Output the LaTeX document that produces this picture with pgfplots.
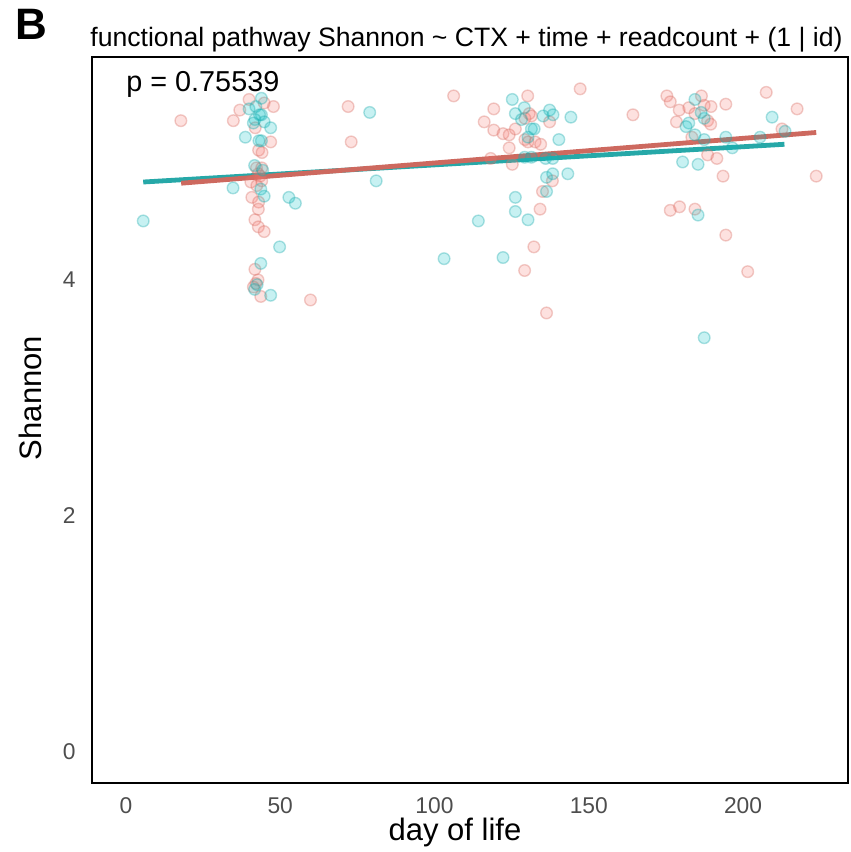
\documentclass[border=0pt]{standalone}
\usepackage{pgfplots}
\pgfplotsset{compat=1.18}
\usepackage{fontspec}
\setmainfont{Liberation Sans}
\definecolor{ggred}{HTML}{F8766D}
\definecolor{ggteal}{HTML}{00BFC4}
\definecolor{lred}{RGB}{205,105,95}
\definecolor{lteal}{RGB}{38,168,168}
\definecolor{pred}{RGB}{215,110,100}
\definecolor{pteal}{RGB}{30,170,172}
\definecolor{tickgray}{HTML}{4D4D4D}
\begin{document}
\begin{tikzpicture}
\useasboundingbox (-46pt,-34.5pt) rectangle (379.5pt,391.5pt);
\begin{axis}[
  at={(0,0)}, anchor=south west,
  scale only axis, width=378pt, height=363pt,
  xmin=-11, xmax=234, ymin=-0.265, ymax=5.89,
  xtick={0,50,100,150,200}, ytick={0,2,4},
  major tick length=0pt,
  axis line style={line width=1pt},
  /pgf/number format/assume math mode=true,
  tick label style={font=\fontsize{11.4}{13}\selectfont, text=tickgray},
  xticklabel style={anchor=base, inner sep=0pt, yshift=-15pt},
  yticklabel style={anchor=east, inner sep=0pt, xshift=-8pt},
  clip=true,
]
\addplot[only marks, mark=*, mark size=2.9pt,
  mark options={draw=pred, fill=ggred, fill opacity=0.22, draw opacity=0.35, line width=0.7pt}]
coordinates {
(17.8,5.35) (34.8,5.35) (36.9,5.44) (39.9,5.53) (44.8,5.50) (47.8,5.47)
(41.9,5.29) (46.9,5.17) (43.0,5.10) (44.1,5.08) (42.3,4.95) (44.0,4.95)
(42.9,4.90) (43.5,4.88) (40.5,4.83) (44.0,4.84) (42.4,4.80) (40.8,4.70)
(43.0,4.66) (42.9,4.60) (41.8,4.51) (42.9,4.45) (44.8,4.41) (41.8,4.09)
(42.8,4.00) (42.1,3.97) (41.3,3.94) (43.7,3.86) (59.8,3.83)
(72.0,5.47) (73.0,5.17) (106.2,5.56) (119.2,5.45) (116.1,5.34) (119.2,5.27)
(122.2,5.24) (124.2,5.23) (126.2,5.28) (124.2,5.12) (130.2,5.56) (130.7,5.41)
(131.4,5.39) (129.3,5.37) (129.3,5.19) (130.3,5.17) (132.6,5.17) (134.4,5.15)
(137.3,5.34) (147.2,5.62) (118.2,5.03) (125.2,4.98) (138.2,4.84) (135.0,4.75)
(134.2,4.60) (132.2,4.28) (129.2,4.08) (136.3,3.72)
(164.3,5.40) (175.3,5.56) (176.4,5.51) (179.3,5.44) (182.4,5.46) (186.5,5.56)
(187.4,5.48) (189.6,5.47) (194.4,5.49) (184.4,5.41) (188.5,5.35) (189.5,5.32)
(178.4,5.34) (183.4,5.21) (188.5,5.06) (191.5,5.03) (193.5,4.88) (207.5,5.59)
(217.5,5.45) (212.6,5.28) (223.7,4.88) (176.4,4.59) (179.4,4.62) (184.4,4.60)
(194.4,4.38) (201.5,4.07)
};
\addplot[only marks, mark=*, mark size=2.9pt,
  mark options={draw=pteal, fill=ggteal, fill opacity=0.22, draw opacity=0.35, line width=0.7pt}]
coordinates {
(43.9,5.54) (39.9,5.45) (42.1,5.47) (43.9,5.40) (43.3,5.40) (41.8,5.36)
(41.3,5.33) (44.8,5.34) (46.9,5.29) (38.7,5.21) (43.1,5.18) (43.9,5.18)
(41.7,4.97) (44.3,4.93) (34.7,4.78) (43.7,4.77) (44.8,4.71) (52.8,4.70)
(54.9,4.65) (5.6,4.50) (49.8,4.28) (43.7,4.14) (42.5,3.96) (41.7,3.92)
(46.9,3.87) (79.0,5.42) (81.1,4.84) (103.1,4.18)
(125.2,5.53) (126.2,5.41) (129.1,5.46) (128.2,5.36) (131.4,5.28) (132.3,5.28)
(130.3,5.21) (135.2,5.39) (137.3,5.44) (138.4,5.40) (144.2,5.38) (140.3,5.19)
(129.2,5.04) (131.4,5.04) (136.0,5.03) (138.3,5.03) (136.3,4.87) (138.3,4.90)
(143.2,4.90) (136.3,4.75) (126.2,4.70) (126.2,4.58) (130.3,4.51) (114.2,4.50)
(122.2,4.19)
(184.4,5.53) (186.4,5.42) (187.4,5.37) (182.4,5.33) (181.5,5.30) (184.4,5.23)
(187.4,5.19) (194.4,5.21) (196.5,5.12) (180.4,5.00) (185.4,4.98) (205.5,5.21)
(209.4,5.38) (213.6,5.26) (185.4,4.55) (187.4,3.51)
};
\addplot[lteal, line width=2.4pt] coordinates {(5.6,4.83) (213.4,5.15)};
\addplot[lred, line width=2.4pt] coordinates {(17.9,4.82) (223.7,5.25)};
\end{axis}
\node[anchor=base west, inner sep=0pt, font=\fontsize{13.3}{16}\selectfont] at (-1pt,368pt) {functional pathway Shannon \textasciitilde{} CTX + time + readcount + (1 | id)};
\node[anchor=base west, inner sep=0pt, font=\fontsize{22}{26}\selectfont\bfseries] at (-38.5pt,371.5pt) {B};
\node[anchor=base west, inner sep=0pt, font=\fontsize{14.4}{17}\selectfont] at (17pt,345.6pt) {p = 0.75539};
\node[anchor=base, inner sep=0pt, font=\fontsize{15.5}{18}\selectfont] at (181.5pt,-28.5pt) {day of life};
\node[anchor=base, rotate=90, inner sep=0pt, font=\fontsize{15.5}{18}\selectfont] at (-25pt,192.5pt) {Shannon};
\end{tikzpicture}
\end{document}
